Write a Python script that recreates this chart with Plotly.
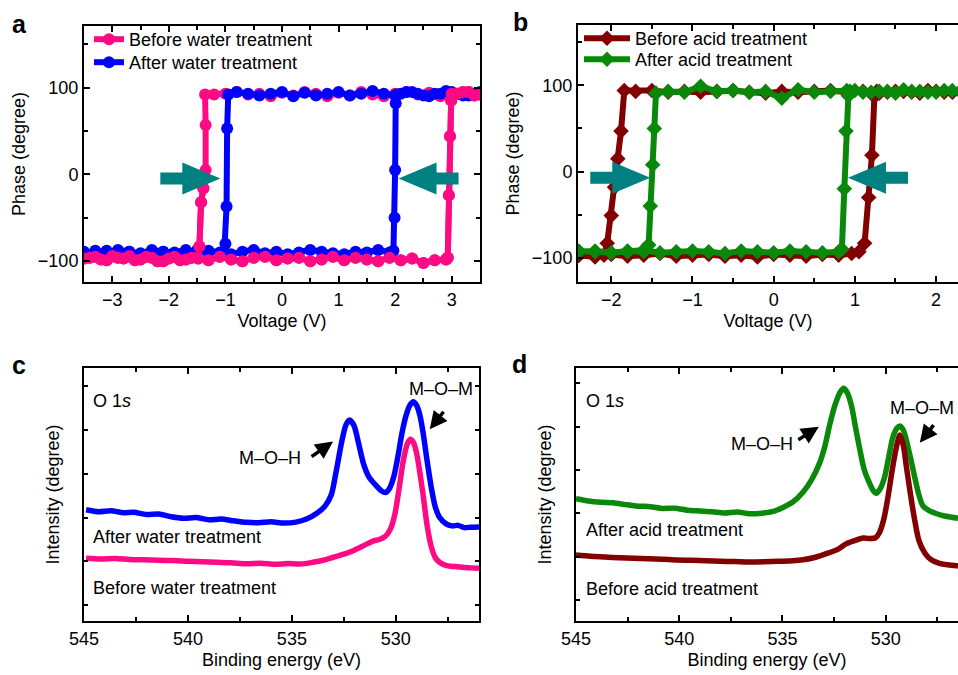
import plotly.graph_objects as go

# ---------------- data ----------------
# Panel a: PFM phase loops (water treatment)
A_BEFORE_V = [-3.5, -3.3, -3.1, -2.9, -2.7, -2.5, -2.3, -2.1, -1.9, -1.7, -1.5, -1.3, -1.1, -0.9, -0.7, -0.5,
              -0.3, -0.1, 0.1, 0.3, 0.5, 0.7, 0.9, 1.1, 1.3, 1.5, 1.7, 1.9, 2.1, 2.3, 2.5, 2.7, 2.9,
              2.93, 2.95, 2.97, 2.99, 3.1, 3.3, 3.5,
              3.4, 3.2, 3.0, 2.8, 2.6, 2.4, 2.2, 2.0, 1.8, 1.6, 1.4, 1.2, 1.0, 0.8, 0.6, 0.4, 0.2, 0.0,
              -0.2, -0.4, -0.6, -0.8, -1.0, -1.2,
              -1.36, -1.35, -1.35, -1.39, -1.43, -1.46, -1.48,
              -1.6, -1.8, -2.0, -2.2, -2.4, -2.6, -2.8, -3.0, -3.2, -3.4]
A_BEFORE_P = [-97, -95, -99, -96, -94, -98, -96, -100, -95, -98, -96, -99, -95, -98, -100, -96,
              -95, -99, -97, -96, -100, -98, -95, -99, -96, -98, -100, -96, -99, -97, -102, -99, -98,
              -96, -24, 44, 85, 93, 95, 92,
              91, 95, 93, 90, 94, 92, 95, 93, 90, 92, 95, 91, 94, 90, 93, 95, 91, 94,
              90, 93, 92, 95, 93, 92,
              92, 57, 5, -16, -32, -83, -97,
              -96, -99, -97, -100, -95, -99, -97, -94, -98, -96]
A_AFTER_V = [-3.5, -3.3, -3.1, -2.9, -2.7, -2.5, -2.3, -2.1, -1.9, -1.7, -1.5, -1.3, -1.1, -0.9, -0.7, -0.5,
             -0.3, -0.1, 0.1, 0.3, 0.5, 0.7, 0.9, 1.1, 1.3, 1.5, 1.7, 1.9,
             1.97, 1.99, 2.0, 2.01, 2.03,
             2.1, 2.3, 2.5, 2.7, 2.9, 3.1, 3.3, 3.5,
             3.4, 3.2, 3.0, 2.8, 2.6, 2.4, 2.2, 2.0, 1.8, 1.6, 1.4, 1.2, 1.0, 0.8, 0.6, 0.4, 0.2, 0.0,
             -0.2, -0.4, -0.6, -0.8,
             -0.95, -0.97, -0.98, -1.0, -1.02,
             -1.1, -1.3, -1.5, -1.7, -1.9, -2.1, -2.3, -2.5, -2.7, -2.9, -3.1, -3.3, -3.5]
A_AFTER_P = [-89, -91, -88, -92, -89, -91, -87, -89, -92, -90, -87, -89, -91, -92, -89, -87,
             -91, -89, -92, -90, -87, -89, -91, -92, -89, -90, -87, -90,
             -88, -50, 5, 82, 92,
             93, 95, 91, 93, 96, 93, 91, 95,
             93, 91, 95, 93, 90, 93, 95, 91, 93, 96, 93, 91, 95, 93, 91, 94, 90, 95,
             93, 91, 93, 95,
             92, 53, -37, -80, -89,
             -90, -88, -92, -87, -90, -89, -91, -92, -89, -87, -90, -88, -91]

# Panel b: PFM phase loops (acid treatment)
B_BEFORE_V = [-2.4, -2.2, -2.0, -1.8, -1.6, -1.4, -1.2, -1.0, -0.8, -0.6, -0.4, -0.2, 0.0, 0.2, 0.4, 0.6, 0.8,
              0.96, 1.05, 1.12, 1.17, 1.21, 1.24, 1.27,
              1.4, 1.6, 1.8, 2.0, 2.2, 2.4,
              2.3, 2.1, 1.9, 1.7, 1.5, 1.3, 1.1, 0.9, 0.7, 0.5, 0.3, 0.1, -0.1, -0.3, -0.5, -0.7, -0.9,
              -1.1, -1.3, -1.5, -1.7,
              -1.84, -1.88, -1.92, -1.96, -2.0, -2.05, -2.09,
              -2.2, -2.4]
B_BEFORE_P = [-97, -99, -96, -98, -97, -95, -98, -97, -96, -98, -97, -99, -96, -97, -98, -96, -97,
              -95, -93, -83, -30, 19, 87, 93,
              92, 93, 91, 93, 92, 93,
              93, 92, 94, 92, 93, 91, 93, 92, 94, 93, 92, 93, 91, 92, 94, 93, 92,
              93, 92, 94, 93,
              94, 47, 15, -18, -51, -83, -97,
              -98, -97]
B_AFTER_V = [-2.4, -2.2, -2.0, -1.8, -1.6, -1.4, -1.2, -1.0, -0.8, -0.6, -0.4, -0.2, 0.0, 0.2, 0.4, 0.6, 0.8,
             0.84, 0.87, 0.89, 0.92, 0.94,
             1.0, 1.2, 1.4, 1.6, 1.8, 2.0, 2.2, 2.4,
             2.3, 2.1, 1.9, 1.7, 1.5, 1.3, 1.1, 0.9, 0.7, 0.5, 0.3, 0.1, -0.1, -0.3, -0.5, -0.7, -0.9,
             -1.1, -1.3,
             -1.45, -1.47, -1.49, -1.52, -1.54,
             -1.6, -1.8, -2.0, -2.2, -2.4]
B_AFTER_P = [-93, -92, -94, -93, -91, -94, -93, -92, -93, -95, -92, -93, -94, -92, -93, -94, -93,
             -90, -20, 47, 88, 93,
             94, 92, 93, 95, 93, 92, 94, 93,
             93, 94, 92, 93, 91, 93, 92, 94, 93, 92, 95, 85, 93, 92, 94, 93, 99,
             92, 93,
             91, 50, 8, -40, -85,
             -93, -92, -94, -93, -92]

# Panel c: O 1s XPS (water treatment), arbitrary intensity units
C_AFTER_E = [544.9, 544.3, 543.7, 543.1, 542.6, 542.0, 541.4, 540.8, 540.2, 539.6, 539.0, 538.4, 537.8,
             537.2, 536.6, 536.0, 535.4, 534.8, 534.3, 533.8, 533.4, 533.1, 532.85, 532.6, 532.4, 532.22,
             532.0, 531.8, 531.55, 531.3, 531.0, 530.7, 530.5, 530.3, 530.1, 529.9, 529.7, 529.5, 529.3,
             529.15, 529.0, 528.85, 528.7, 528.5, 528.3, 528.1, 527.9, 527.6, 527.3, 527.0, 526.7, 526.4, 526.0]
C_AFTER_I = [44.0, 43.2, 43.6, 42.8, 43.0, 42.1, 42.3, 41.2, 40.6, 40.9, 40.0, 40.3, 39.6,
             39.0, 38.8, 39.2, 38.7, 39.1, 40.3, 42.6, 45.5, 50.0, 60.0, 71.0, 77.5, 79.4,
             77.0, 70.5, 62.0, 57.0, 54.0, 51.5, 50.8, 52.5, 57.0, 65.0, 74.5, 81.5, 85.6,
             86.7, 85.2, 81.5, 75.0, 63.5, 53.0, 45.0, 41.0, 38.5, 37.6, 37.8, 36.9, 37.1, 37.2]
C_BEFORE_E = [544.9, 544.2, 543.5, 542.8, 542.1, 541.4, 540.7, 540.0, 539.3, 538.6, 537.9, 537.2, 536.5,
              535.8, 535.2, 534.6, 534.0, 533.5, 533.0, 532.5, 532.0, 531.5, 531.1, 530.8, 530.5, 530.25,
              530.05, 529.85, 529.65, 529.45, 529.3, 529.15, 529.0, 528.85, 528.7, 528.5, 528.3, 528.1,
              527.9, 527.6, 527.2, 526.8, 526.4, 526.0]
C_BEFORE_I = [24.8, 24.5, 24.7, 24.3, 24.2, 24.0, 23.9, 23.6, 23.4, 23.2, 23.0, 22.6, 22.8,
              22.4, 22.7, 22.5, 23.2, 24.0, 25.2, 26.4, 28.0, 30.0, 31.6, 32.2, 33.5, 36.5,
              42.0, 52.0, 63.0, 70.0, 71.8, 70.5, 66.3, 59.0, 50.5, 38.0, 29.5, 25.0,
              23.2, 22.0, 21.5, 21.2, 21.0, 20.8]

# Panel d: O 1s XPS (acid treatment)
D_AFTER_E = [545.0, 544.4, 543.8, 543.2, 542.6, 542.0, 541.4, 540.8, 540.2, 539.6, 539.0, 538.4, 537.8,
             537.2, 536.6, 536.0, 535.5, 535.0, 534.5, 534.0, 533.6, 533.2, 532.95, 532.7, 532.45, 532.2,
             532.03, 531.85, 531.65, 531.45, 531.25, 531.05, 530.85, 530.6, 530.45, 530.25, 530.05,
             529.85, 529.65, 529.45, 529.32, 529.15, 529.0, 528.8, 528.6, 528.4, 528.2, 527.9, 527.6,
             527.2, 526.8, 526.5]
D_AFTER_I = [48.3, 47.4, 46.9, 46.7, 46.0, 45.4, 45.2, 44.5, 44.6, 43.8, 43.5, 43.2, 42.7,
             43.1, 42.4, 42.6, 43.2, 44.8, 47.0, 51.0, 55.7, 62.5, 69.0, 78.0, 85.5, 90.5,
             92.0, 90.0, 84.7, 76.0, 67.6, 60.0, 55.7, 51.5, 50.5, 52.5, 57.0,
             65.0, 72.8, 76.3, 77.1, 75.5, 71.5, 64.5, 57.0, 50.0, 45.5, 43.6, 42.6,
             41.6, 41.0, 40.6]
D_BEFORE_E = [545.0, 544.3, 543.6, 542.9, 542.2, 541.5, 540.8, 540.1, 539.4, 538.7, 538.0, 537.3, 536.6,
              535.9, 535.2, 534.5, 534.0, 533.4, 532.8, 532.3, 531.9, 531.5, 531.1, 530.8, 530.5, 530.3,
              530.1, 529.9, 529.7, 529.5, 529.32, 529.15, 529.0, 528.8, 528.6, 528.4, 528.1, 527.8,
              527.4, 527.0, 526.5]
D_BEFORE_I = [26.1, 25.6, 25.3, 25.0, 24.8, 24.6, 24.4, 24.1, 24.0, 23.8, 23.6, 23.5, 23.3,
              23.4, 23.6, 23.8, 24.2, 25.2, 26.8, 28.4, 30.6, 31.8, 32.8, 32.6, 32.9, 35.0,
              40.0, 48.5, 59.0, 68.0, 73.5, 69.5, 61.0, 50.0, 40.0, 32.0, 26.8, 24.2,
              22.8, 22.2, 21.7]

A_PHASE_TICKS = [-100, 0, 100]
C_INT_TICKS = [6.3, 23.6, 40.9, 58.1, 75.4, 92.7]
D_INT_TICKS = [8.3, 25.4, 42.6, 59.7, 76.8, 93.9]

# ---------------- styling ----------------
W, H = 958, 675
FONT = "Liberation Sans, Arial, Helvetica, sans-serif"
PINK = "#ff0a85"
BLUE = "#0000ff"
MAROON = "#820000"
GREEN = "#0a880a"
TEAL = "#008080"

DOM = {
    "a": dict(x=[84 / W, 480 / W], y=[1 - 282 / H, 1 - 26 / H]),
    "b": dict(x=[578 / W, 1.0], y=[1 - 282 / H, 1 - 25 / H]),
    "c": dict(x=[84 / W, 479 / W], y=[1 - 621 / H, 1 - 368 / H]),
    "d": dict(x=[576 / W, 1.0], y=[1 - 621 / H, 1 - 368 / H]),
}
RANGES = {
    "a": dict(x=[-3.5, 3.5], y=[-124, 171]),
    "b": dict(x=[-2.41, 2.27], y=[-128, 170]),
    "c": dict(x=[545, 526.0], y=[0, 100]),
    "d": dict(x=[545, 526.5], y=[0, 100]),
}

fig = go.Figure()

def loop_trace(x, y, name, color, symbol, size, xa, ya, legend, showlegend=True):
    return go.Scatter(x=x, y=y, name=name, mode="lines+markers", showlegend=showlegend,
                      line=dict(color=color, width=6),
                      marker=dict(color=color, symbol=symbol, size=size, line=dict(width=0)),
                      xaxis=xa, yaxis=ya, legend=legend, connectgaps=False)

# pink loop is drawn below the blue loop, then its lower branch and x>2.9 part again on top
A_BEFORE_P_TOP = [p if (p < 0 or v > 2.9) else None for v, p in zip(A_BEFORE_V, A_BEFORE_P)]

fig.add_trace(loop_trace(A_BEFORE_V, A_BEFORE_P, "Before water treatment", PINK, "circle", 12, "x", "y", "legend"))
fig.add_trace(loop_trace(A_AFTER_V, A_AFTER_P, "After water treatment", BLUE, "circle", 12, "x", "y", "legend3"))
fig.add_trace(loop_trace(A_BEFORE_V, A_BEFORE_P_TOP, "Before water treatment", PINK, "circle", 12, "x", "y",
                         "legend", showlegend=False))
fig.add_trace(loop_trace(B_BEFORE_V, B_BEFORE_P, "Before acid treatment", MAROON, "diamond", 12, "x2", "y2", "legend2"))
fig.add_trace(loop_trace(B_AFTER_V, B_AFTER_P, "After acid treatment", GREEN, "diamond", 12, "x2", "y2", "legend4"))

def xps_trace(x, y, color, xa, ya):
    return go.Scatter(x=x, y=y, mode="lines", showlegend=False,
                      line=dict(color=color, width=5.5, shape="spline", smoothing=0.7),
                      xaxis=xa, yaxis=ya)

fig.add_trace(xps_trace(C_AFTER_E, C_AFTER_I, BLUE, "x3", "y3"))
fig.add_trace(xps_trace(C_BEFORE_E, C_BEFORE_I, PINK, "x3", "y3"))
fig.add_trace(xps_trace(D_AFTER_E, D_AFTER_I, GREEN, "x4", "y4"))
fig.add_trace(xps_trace(D_BEFORE_E, D_BEFORE_I, MAROON, "x4", "y4"))

tickfont = dict(family=FONT, size=18, color="black")
titlefont = dict(family=FONT, size=18, color="black")

def xaxis(panel, anchor, title, dtick, minor, mirror):
    return dict(domain=DOM[panel]["x"], range=RANGES[panel]["x"], anchor=anchor,
                showline=True, linecolor="black", linewidth=2, mirror=mirror,
                ticks="inside", ticklen=6, tickwidth=2, tickcolor="black",
                tickmode="linear", tick0=0, dtick=dtick,
                minor=dict(ticks="inside", ticklen=4, tickwidth=1.5, tickcolor="black", dtick=minor),
                showgrid=False, zeroline=False, tickfont=tickfont,
                title=dict(text=title, font=titlefont, standoff=6), automargin=False)

def yaxis_phase(panel, anchor, mirror):
    return dict(domain=DOM[panel]["y"], range=RANGES[panel]["y"], anchor=anchor,
                showline=True, linecolor="black", linewidth=2, mirror=mirror,
                ticks="inside", ticklen=6, tickwidth=2, tickcolor="black",
                tickmode="array", tickvals=A_PHASE_TICKS,
                minor=dict(ticks="inside", ticklen=4, tickwidth=1.5, tickcolor="black",
                           tickmode="linear", tick0=0, dtick=50),
                showgrid=False, zeroline=False, tickfont=tickfont,
                title=dict(text="Phase (degree)", font=titlefont, standoff=8), automargin=False)

def yaxis_int(panel, anchor, ticks, mirror):
    return dict(domain=DOM[panel]["y"], range=RANGES[panel]["y"], anchor=anchor,
                showline=True, linecolor="black", linewidth=2, mirror=mirror,
                ticks="inside", ticklen=4, tickwidth=1.5, tickcolor="black",
                tickmode="array", tickvals=ticks, showticklabels=False,
                showgrid=False, zeroline=False,
                title=dict(text="Intensity (degree)", font=titlefont, standoff=18), automargin=False)

def legend_box(x_px, top_px, itemwidth):
    return dict(x=x_px / W, y=1 - top_px / H, xanchor="left", yanchor="top", bgcolor="rgba(0,0,0,0)",
                borderwidth=0, font=dict(family=FONT, size=18, color="black"),
                tracegroupgap=0, itemwidth=itemwidth)

fig.update_layout(
    width=W, height=H, margin=dict(l=0, r=0, t=0, b=0),
    paper_bgcolor="white", plot_bgcolor="white",
    font=dict(family=FONT, size=18, color="black"),
    xaxis=xaxis("a", "y", "Voltage (V)", 1, 0.5, "allticks"),
    yaxis=yaxis_phase("a", "x", "allticks"),
    xaxis2=xaxis("b", "y2", "Voltage (V)", 1, 0.5, "allticks"),
    yaxis2=yaxis_phase("b", "x2", False),
    xaxis3=xaxis("c", "y3", "Binding energy (eV)", 5, 2.5, "allticks"),
    yaxis3=yaxis_int("c", "x3", C_INT_TICKS, "ticks"),
    xaxis4=xaxis("d", "y4", "Binding energy (eV)", 5, 2.5, "allticks"),
    yaxis4=yaxis_int("d", "x4", D_INT_TICKS, False),
    legend=legend_box(89, 21, 30),
    legend3=legend_box(89, 44, 30),
    legend2=legend_box(579, 20, 46),
    legend4=legend_box(579, 41, 46),
)

# ---- teal block arrows (annotation shapes), sized in pixels ----
def px_scale(panel):
    dx = (DOM[panel]["x"][1] - DOM[panel]["x"][0]) * W / abs(RANGES[panel]["x"][1] - RANGES[panel]["x"][0])
    dy = (DOM[panel]["y"][1] - DOM[panel]["y"][0]) * H / abs(RANGES[panel]["y"][1] - RANGES[panel]["y"][0])
    return dx, dy

def block_arrow(panel, xref, yref, tip_x, tip_y, direction):
    sx, sy = px_scale(panel)
    L, HL, HH, SH = 60, 38, 16, 6
    pts = [(0, 0), (-HL, HH), (-HL, SH), (-L, SH), (-L, -SH), (-HL, -SH), (-HL, -HH)]
    coords = [(tip_x + direction * dx / sx, tip_y + dy / sy) for dx, dy in pts]
    path = "M " + " L ".join(f"{x:.4f},{y:.4f}" for x, y in coords) + " Z"
    fig.add_shape(type="path", path=path, xref=xref, yref=yref,
                  fillcolor=TEAL, line=dict(width=0), layer="above")

block_arrow("a", "x", "y", -1.09, -4.6, 1)
block_arrow("a", "x", "y", 2.06, -4.6, -1)
block_arrow("b", "x2", "y2", -1.52, -7, 1)
block_arrow("b", "x2", "y2", 0.915, -7, -1)

# ---- text annotations ----
def note(text, x, y, xref, yref, xanchor="left", size=18):
    fig.add_annotation(text=text, x=x, y=y, xref=xref, yref=yref, xanchor=xanchor, yanchor="middle",
                       showarrow=False, font=dict(family=FONT, size=size, color="black"))

def pointer(x, y, xref, yref, ax, ay):
    fig.add_annotation(text="", x=x, y=y, xref=xref, yref=yref, ax=ax, ay=ay,
                       showarrow=True, arrowhead=2, arrowsize=1.0, arrowwidth=3.5, arrowcolor="black")

note("O 1<i>s</i>", 544.66, 87, "x3", "y3")
note("M–O–H", 534.45, 64.4, "x3", "y3", xanchor="right")
note("M–O–M", 527.85, 91.6, "x3", "y3", xanchor="center")
note("After water treatment", 544.66, 33.3, "x3", "y3")
note("Before water treatment", 544.66, 13.2, "x3", "y3")
pointer(533.02, 70.9, "x3", "y3", -23, 16)
pointer(528.37, 75.8, "x3", "y3", 15, -19)

note("O 1<i>s</i>", 544.6, 87, "x4", "y4")
note("M–O–H", 534.39, 70, "x4", "y4", xanchor="right")
note("M–O–M", 526.62, 84.1, "x4", "y4", xanchor="right")
note("After acid treatment", 544.6, 36, "x4", "y4")
note("Before acid treatment", 544.6, 12.5, "x4", "y4")
pointer(533.24, 76.8, "x4", "y4", -22, 14)
pointer(528.35, 70.5, "x4", "y4", 15, -19)

# panel letters
for letter, px, py in [("a", 19, 24), ("b", 520, 22), ("c", 19, 365), ("d", 519, 364)]:
    fig.add_annotation(text=f"<b>{letter}</b>", x=px / W, y=1 - py / H, xref="paper", yref="paper",
                       xanchor="center", yanchor="middle", showarrow=False,
                       font=dict(family=FONT, size=25, color="black"))

fig.write_html("out.html")
